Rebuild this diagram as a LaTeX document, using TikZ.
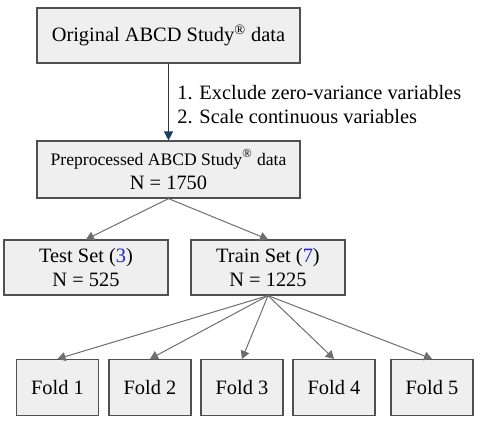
\documentclass[tikz,border=0pt]{standalone}
\usepackage{fontspec}
\setmainfont{Liberation Serif}
\usepackage{xcolor}
\usetikzlibrary{shapes,positioning,arrows.meta}

\definecolor{boxfill}{HTML}{EFEFEF}
\definecolor{boxline}{HTML}{505050}
\definecolor{linkgray}{HTML}{6E6E6E}
\definecolor{stepnavy}{HTML}{1F3A5A}
\definecolor{splitblue}{HTML}{2323C8}

\begin{document}
\begin{tikzpicture}[x=0.5pt,y=-0.5pt,
  databox/.style={rectangle, draw=boxline, fill=boxfill, line width=0.6pt,
    inner sep=0pt, align=center, font=\rmfamily\fontsize{10.2}{12}\selectfont},
  link/.style={draw=linkgray, line width=0.5pt,
    -{Triangle[length=4pt,width=4.5pt]}}]%
  \useasboundingbox (0,0) rectangle (480,420);

  \node[databox, minimum width=131.5pt, minimum height=27.5pt]
    (orig) at (168.5,35.5) {Original ABCD Study\textsuperscript{\textregistered} data};

  \node[databox, minimum width=131.5pt, minimum height=28.5pt]
    (prep) at (168.5,169.5)
    {{\fontsize{8.8}{12}\selectfont Preprocessed ABCD Study\textsuperscript{\textregistered} data}\\
     N = 1750};

  \node[databox, minimum width=82pt, minimum height=27.5pt]
    (test) at (86,267.5) {Test Set (\textcolor{splitblue}{3})\\N = 525};

  \node[databox, minimum width=77pt, minimum height=27.5pt]
    (train) at (268,267.5) {Train Set (\textcolor{splitblue}{7})\\N = 1225};

  \node[anchor=west, align=left, inner sep=0pt, font=\rmfamily\fontsize{10.2}{12}\selectfont]
    (steps) at (177,105) {1. Exclude zero-variance variables\\2. Scale continuous variables};

      \draw [stepnavy, line width=0.7pt, -{Triangle[length=4.5pt,width=4.5pt]}] (orig) -- (prep);
      \draw [link] (prep.south) -- (test.north);
      \draw [link] (prep.south) -- (train.north);

  \foreach \i/\x in {1/57.5,2/150,3/242,4/334,5/432} {
    \node[databox, minimum width=41pt, minimum height=28pt]
      (fold\i) at (\x,387.5) {Fold \i};
    \draw [link] (train.south) -- (fold\i.north);
  }
\end{tikzpicture}
\end{document}
